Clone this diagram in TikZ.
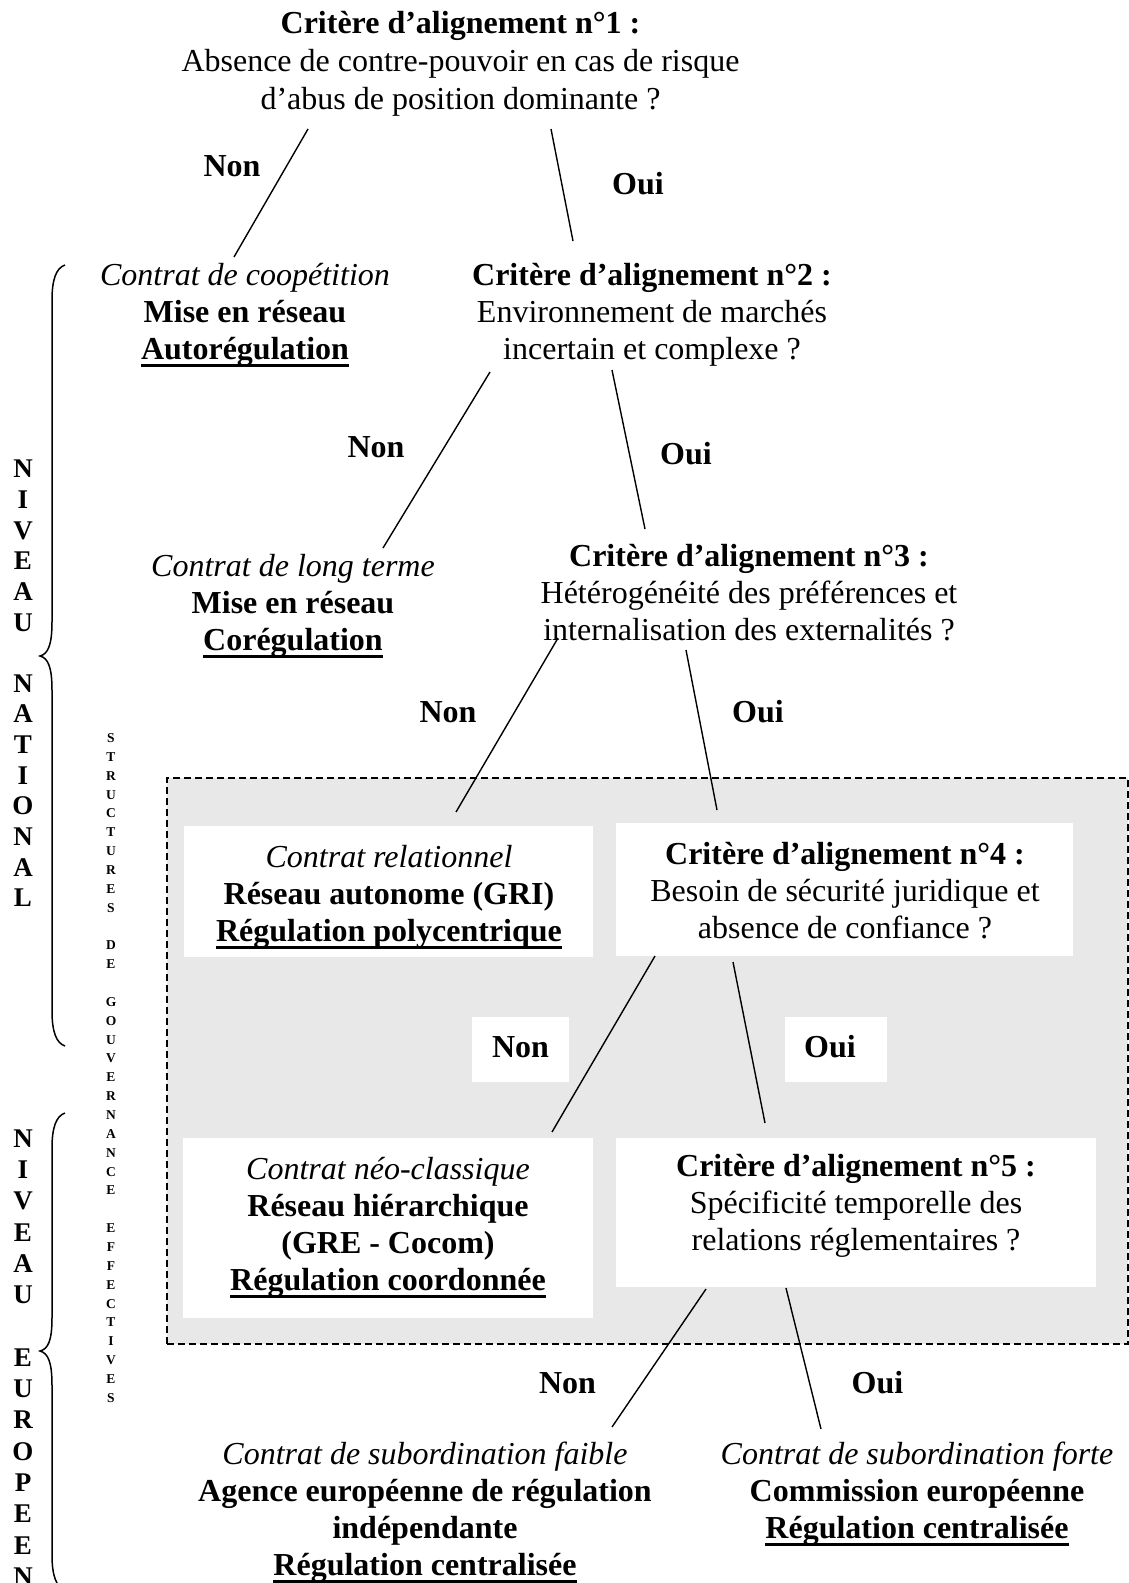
\documentclass[tikz,border=0pt]{standalone}
\usepackage{fontspec}
\setmainfont{Liberation Serif}
\definecolor{govgray}{RGB}{232,232,232}
\newcommand\ulbf[1]{\setbox0\hbox{#1}\rlap{\rule[-7.5pt]{\wd0}{3.2pt}}\box0}
\tikzset{
  txt/.style={anchor=north, align=center, inner sep=0pt, font=\fontsize{32}{37}\selectfont},
  lab/.style={anchor=base, inner sep=0pt, font=\fontsize{32}{37}\selectfont\bfseries},
  wbox/.style={fill=white, draw=none, inner sep=0pt, anchor=north west},
  conn/.style={line width=1.4pt},
  brace/.style={line width=1.5pt},
  bigletters/.style={anchor=north, align=center, inner sep=0pt, font=\fontsize{27}{#1}\selectfont\bfseries},
  smallletters/.style={anchor=north, align=center, inner sep=0pt, font=\fontsize{13.5}{18.85}\selectfont\bfseries}
}
\begin{document}
\begin{tikzpicture}[x=1pt,y=-1pt]
\useasboundingbox (0,0) rectangle (1128,1583);
% governance area
\node[draw, line width=1.8pt, dash pattern=on 7pt off 4pt, fill=govgray, minimum width=961pt, minimum height=566pt, inner sep=0pt, anchor=north west] (gov) at (166,777) {};
% white boxes
\node[wbox, minimum width=409pt, minimum height=131pt] (bx1) at (184,826) {};
\node[wbox, minimum width=457pt, minimum height=133pt] (bx2) at (616,823) {};
\node[wbox, minimum width=410pt, minimum height=180pt] (bx3) at (183,1138) {};
\node[wbox, minimum width=480pt, minimum height=149pt] (bx4) at (616,1138) {};
\node[wbox, minimum width=97pt, minimum height=65pt] (bxn) at (472,1017) {};
\node[wbox, minimum width=102pt, minimum height=65pt] (bxo) at (785,1017) {};

% texts
\node[txt, font=\fontsize{32}{38}\selectfont] (c1) at (460.5,6.4)
  {\strut\textbf{Critère d’alignement n°1 :}\\\strut Absence de contre-pouvoir en cas de risque\\\strut d’abus de position dominante ?};
\node[txt] (l1) at (245,259.1)
  {\strut\textit{Contrat de coopétition}\\\strut\textbf{Mise en réseau}\\\strut\textbf{\ulbf{Autorégulation}}};
\node[txt] (c2) at (652,259.1)
  {\strut\textbf{Critère d’alignement n°2 :}\\\strut Environnement de marchés\\\strut incertain et complexe ?};
\node[txt] (l2) at (293,550.6)
  {\strut\textit{Contrat de long terme}\\\strut\textbf{Mise en réseau}\\\strut\textbf{\ulbf{Corégulation}}};
\node[txt] (c3) at (749,540.1)
  {\strut\textbf{Critère d’alignement n°3 :}\\\strut Hétérogénéité des préférences et\\\strut internalisation des externalités ?};
\node[txt] (t1) at (389,841.1)
  {\strut\textit{Contrat relationnel}\\\strut\textbf{Réseau autonome (GRI)}\\\strut\textbf{\ulbf{Régulation polycentrique}}};
\node[txt] (c4) at (845,838.1)
  {\strut\textbf{Critère d’alignement n°4 :}\\\strut Besoin de sécurité juridique et\\\strut absence de confiance ?};
\node[txt] (t3) at (388,1153.1)
  {\strut\textit{Contrat néo-classique}\\\strut\textbf{Réseau hiérarchique}\\\strut\textbf{(GRE - Cocom)}\\\strut\textbf{\ulbf{Régulation coordonnée}}};
\node[txt] (c5) at (856,1150.1)
  {\strut\textbf{Critère d’alignement n°5 :}\\\strut Spécificité temporelle des\\\strut relations réglementaires ?};
\node[txt] (l5) at (425,1438.1)
  {\strut\textit{Contrat de subordination faible}\\\strut\textbf{Agence européenne de régulation}\\\strut\textbf{indépendante}\\\strut\textbf{\ulbf{Régulation centralisée}}};
\node[txt] (l6) at (917,1438.1)
  {\strut\textit{Contrat de subordination forte}\\\strut\textbf{Commission européenne}\\\strut\textbf{\ulbf{Régulation centralisée}}};

% labels
\node[lab] (non1) at (232,176) {Non};
\node[lab] (oui1) at (638,194) {Oui};
\node[lab] (non2) at (376,457) {Non};
\node[lab] (oui2) at (686,464) {Oui};
\node[lab] (non3) at (448,722) {Non};
\node[lab] (oui3) at (758,722) {Oui};
\node[lab] (non4) at (520.5,1057) {Non};
\node[lab] (oui4) at (830,1057) {Oui};
\node[lab] (non5) at (567.5,1393) {Non};
\node[lab] (oui5) at (877.5,1393) {Oui};

% connector end points
\coordinate (a1) at (308,129);  \coordinate (b1) at (234,257);
\coordinate (a2) at (551,129);  \coordinate (b2) at (573,241);
\coordinate (a3) at (490,372);  \coordinate (b3) at (383,548);
\coordinate (a4) at (612,370);  \coordinate (b4) at (645,529);
\coordinate (a5) at (558,638);  \coordinate (b5) at (456,812);
\coordinate (a6) at (686,650);  \coordinate (b6) at (717,810);
\coordinate (a7) at (655,956);  \coordinate (b7) at (552,1132);
\coordinate (a8) at (733,962);  \coordinate (b8) at (765,1123);
\coordinate (a9) at (706,1289); \coordinate (b9) at (612,1427);
\coordinate (a10) at (786,1288); \coordinate (b10) at (821,1429);
\foreach \i in {1,...,10} {\draw[conn] (a\i) -- (b\i);}

% braces
\draw[brace] (65,265) .. controls (56,268) and (52,280) .. (52,300) -- (52,622)
  .. controls (52,645) and (48,654) .. (40,656)
  .. controls (48,658) and (52,667) .. (52,690) -- (52,1011)
  .. controls (52,1031) and (56,1043) .. (65,1046);
\draw[brace] (65,1113) .. controls (56,1116) and (52,1128) .. (52,1148) -- (52,1318)
  .. controls (52,1341) and (48,1349) .. (40,1351)
  .. controls (48,1353) and (52,1362) .. (52,1385) -- (52,1555)
  .. controls (52,1575) and (56,1587) .. (65,1590);

% vertical letters
\node[bigletters=30.66pt] (nat) at (23,456.04)
  {\strut N\\\strut I\\\strut V\\\strut E\\\strut A\\\strut U\\\strut\\\strut N\\\strut A\\\strut T\\\strut I\\\strut O\\\strut N\\\strut A\\\strut L};
\node[bigletters=31.3pt] (eur) at (23,1125.1)
  {\strut N\\\strut I\\\strut V\\\strut E\\\strut A\\\strut U\\\strut\\\strut E\\\strut U\\\strut R\\\strut O\\\strut P\\\strut E\\\strut E\\\strut N};
\node[smallletters] (sge) at (111,729.1)
  {\strut S\\\strut T\\\strut R\\\strut U\\\strut C\\\strut T\\\strut U\\\strut R\\\strut E\\\strut S\\\strut\\\strut D\\\strut E\\\strut\\\strut G\\\strut O\\\strut U\\\strut V\\\strut E\\\strut R\\\strut N\\\strut A\\\strut N\\\strut C\\\strut E\\\strut\\\strut E\\\strut F\\\strut F\\\strut E\\\strut C\\\strut T\\\strut I\\\strut V\\\strut E\\\strut S};
\end{tikzpicture}
\end{document}
